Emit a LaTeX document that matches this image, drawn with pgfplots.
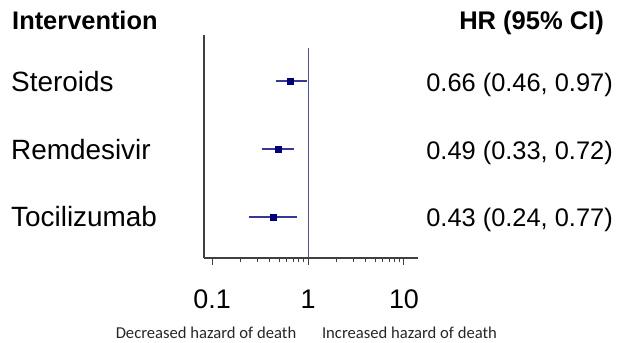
\documentclass[border=0pt]{standalone}
\usepackage{pgfplots}
\pgfplotsset{compat=1.18}
\usepackage{fontspec}
\setmainfont{Liberation Sans}
\newfontfamily\calibri{Carlito}
\definecolor{navy}{RGB}{0,0,120}
\definecolor{ciline}{RGB}{55,55,150}
\definecolor{vline}{RGB}{80,80,150}
\definecolor{spine}{RGB}{64,64,64}
\begin{document}
\begin{tikzpicture}[x=1bp,y=1bp]
\useasboundingbox (-204,-84) rectangle (414,258);
\begin{axis}[
  at={(0,0)}, anchor=south west,
  scale only axis, width=214bp, height=223bp,
  xmode=log, xmin=0.0825, xmax=14,
  ymin=0.397, ymax=3.677,
  axis lines=left, axis line style={-, spine, line width=1.5bp},
  ytick=\empty,
  xtick={0.1,1,10}, xticklabels={0.1,1,10},
  minor xtick={0.2,0.3,0.4,0.5,0.6,0.7,0.8,0.9,2,3,4,5,6,7,8,9},
  xtick pos=bottom, tick align=outside,
  major tick length=7bp, minor tick length=4bp,
  every tick/.style={spine, line width=1bp},
  /pgf/number format/assume math mode=true,
  xticklabel style={font=\fontsize{27}{27}\selectfont, anchor=center, yshift=-34bp},
  clip=false,
]
\addplot[vline, line width=0.8bp] coordinates {(1,0.397) (1,3.485)};
\addplot[ciline, line width=1.4bp] coordinates {(0.46,3) (0.97,3)};
\addplot[ciline, line width=1.4bp] coordinates {(0.33,2) (0.72,2)};
\addplot[ciline, line width=1.4bp] coordinates {(0.24,1) (0.77,1)};
\addplot[only marks, mark=square*, mark size=3bp, mark options={fill=navy, draw=navy}] coordinates {(0.66,3) (0.49,2) (0.43,1)};
\end{axis}
\node[anchor=base west, inner sep=0pt, font=\fontsize{25.5}{28}\selectfont\bfseries] at (-192,228.5) {Intervention};
\node[anchor=base east, inner sep=0pt, font=\fontsize{25.6}{28}\selectfont\bfseries] at (400,228.5) {HR (95\% CI)};
\node[anchor=base west, inner sep=0pt, font=\fontsize{28}{32}\selectfont] at (-193,166.5) {Steroids};
\node[anchor=base west, inner sep=0pt, font=\fontsize{28}{32}\selectfont] at (-193,98.5) {Remdesivir};
\node[anchor=base west, inner sep=0pt, font=\fontsize{28}{32}\selectfont] at (-193,32) {Tocilizumab};
\node[anchor=base east, inner sep=0pt, font=\fontsize{25.5}{30}\selectfont] at (409,166.5) {0.66 (0.46, 0.97)};
\node[anchor=base east, inner sep=0pt, font=\fontsize{25.5}{30}\selectfont] at (409,98.5) {0.49 (0.33, 0.72)};
\node[anchor=base east, inner sep=0pt, font=\fontsize{25.5}{30}\selectfont] at (409,32) {0.43 (0.24, 0.77)};
\node[anchor=base, inner sep=0pt, font=\calibri\fontsize{16.7}{20}\selectfont, text=black!85] at (2,-80) {Decreased hazard of death};
\node[anchor=base, inner sep=0pt, font=\calibri\fontsize{16.7}{20}\selectfont, text=black!85] at (205.5,-80) {Increased hazard of death};
\end{tikzpicture}
\end{document}
